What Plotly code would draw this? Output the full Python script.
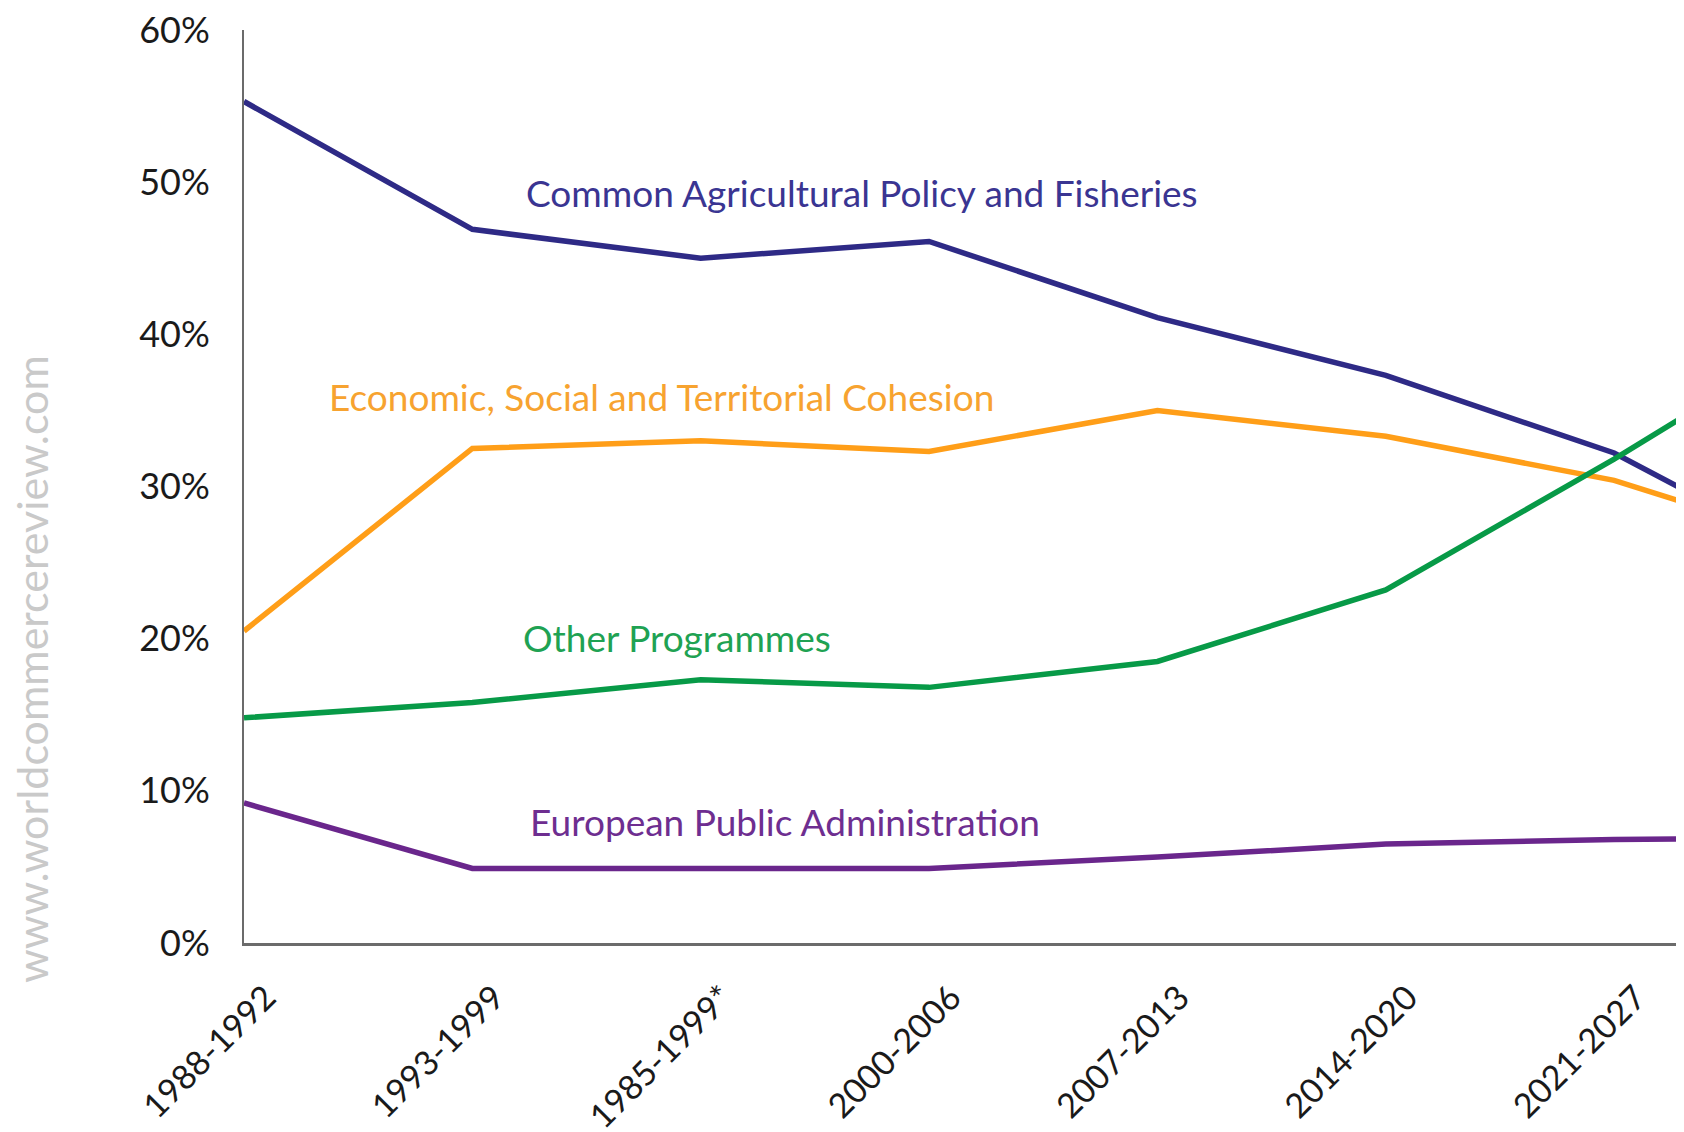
import plotly.graph_objects as go

# Budget periods (last one lies beyond the cropped right edge)
categories = ["1988-1992", "1993-1999", "1985-1999*", "2000-2006",
              "2007-2013", "2014-2020", "2021-2027", ""]

cap_fisheries = [55.3, 46.9, 45.0, 46.1, 41.1, 37.3, 32.2, 24.3]
cohesion      = [20.5, 32.5, 33.0, 32.3, 35.0, 33.3, 30.4, 25.7]
other_prog    = [14.8, 15.8, 17.3, 16.8, 18.5, 23.2, 31.8, 41.0]
public_admin  = [9.2, 4.9, 4.9, 4.9, 5.65, 6.5, 6.8, 6.9]

y_ticks = [0, 10, 20, 30, 40, 50, 60]
y_tick_labels = ["0%", "10%", "20%", "30%", "40%", "50%", "60%"]

series = [
    ("Common Agricultural Policy and Fisheries", cap_fisheries, "#2E2A86", "#3A3592", 1.225, 49.3),
    ("Economic, Social and Territorial Cohesion", cohesion, "#FF9E18", "#F7A330", 0.365, 35.9),
    ("Other Programmes", other_prog, "#079A47", "#1FA253", 1.215, 20.1),
    ("European Public Administration", public_admin, "#6A268C", "#6E2E90", 1.243, 8.0),
]

FONT = "Lato"
xs = list(range(len(categories)))

fig = go.Figure()
for name, vals, col, tcol, ax, ay in series:
    fig.add_trace(go.Scatter(x=xs, y=vals, mode="lines", name=name,
                             line=dict(color=col, width=5.5), showlegend=False))
    fig.add_annotation(x=ax, y=ay, xref="x", yref="y", text=name,
                       showarrow=False, xanchor="left", yanchor="middle",
                       font=dict(family=FONT, size=37, color=tcol))

fig.add_annotation(x=-0.148, y=0.300, xref="paper", yref="paper",
                   text="www.worldcommercereview.com", textangle=-90,
                   showarrow=False, xanchor="center", yanchor="middle",
                   font=dict(family=FONT, size=43, color="#C9C9C9"))

# page body adds an 8px offset, so the figure is 8px smaller than the window
fig.update_layout(
    width=1676, height=1124,
    margin=dict(l=236, r=0, t=22, b=189),
    paper_bgcolor="white", plot_bgcolor="white",
    font=dict(family=FONT, color="#1A1A1A"),
)
fig.update_xaxes(range=[0, 6.306], tickvals=xs[:7], ticktext=categories[:7],
                 tickangle=-45, tickfont=dict(size=34, family=FONT, color="#1A1A1A"),
                 showgrid=False, zeroline=False, showline=True, automargin=False,
                 linecolor="#6B6B6B", linewidth=3, ticks="",
                 ticklabelstandoff=18, ticklabelshift=22, ticklabeloverflow="allow")
fig.update_yaxes(range=[0, 60], tickvals=y_ticks, ticktext=y_tick_labels,
                 tickfont=dict(size=36, family=FONT, color="#1A1A1A"),
                 showgrid=False, zeroline=False, showline=True, automargin=False,
                 linecolor="#6B6B6B", linewidth=2, ticks="", ticklabelstandoff=25,
                 ticklabeloverflow="allow")

fig.write_html("out.html")
